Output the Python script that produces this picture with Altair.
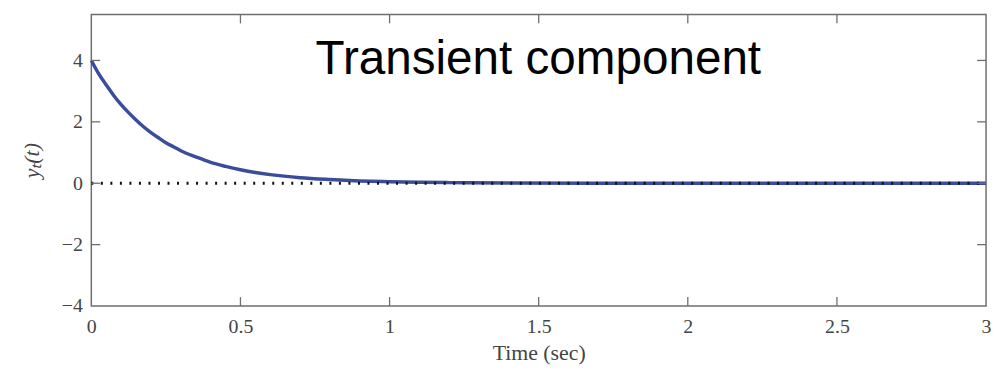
import altair as alt
import pandas as pd

# Curve
time_s = [0, 0.025, 0.05, 0.075, 0.1, 0.125, 0.15, 0.175, 0.2, 0.225, 0.25, 0.275,
          0.3, 0.35, 0.4, 0.45, 0.5, 0.55, 0.6, 0.7, 0.8, 0.9, 1.0, 1.1, 1.2, 1.4,
          1.7, 2.0, 2.5, 3.0]
y_t = [4.0, 3.56, 3.2, 2.86, 2.56, 2.3, 2.06, 1.84, 1.65, 1.48, 1.32, 1.19,
       1.06, 0.86, 0.68, 0.55, 0.44, 0.35, 0.28, 0.18, 0.12, 0.075, 0.048, 0.03,
       0.02, 0.008, 0.002, 0.0, 0.0, 0.0]

# zero reference (dotted)
zero_t = [0, 3]
zero_y = [0, 0]

x_ticks = [0, 0.5, 1, 1.5, 2, 2.5, 3]
y_ticks = [-4, -2, 0, 2, 4]
x_inner_ticks = [0.5, 1, 1.5, 2, 2.5]
y_inner_ticks = [-2, 0, 2, 4]

label_text = ["Transient component"]
label_x = [0.752]
label_y = [3.57]

W, H = 902, 294
X_DOM = [0, 3]
Y_DOM = [-4, 5.5]
SERIF = "Liberation Serif"
AXC = "#444444"
FRAME = "#6e6e6e"

curve_df = pd.DataFrame({"t": time_s, "y": y_t})
zero_df = pd.DataFrame({"t": zero_t, "y": zero_y})
xt_df = pd.DataFrame({"v": x_inner_ticks})
yt_df = pd.DataFrame({"v": y_inner_ticks})
lab_df = pd.DataFrame({"t": label_x, "y": label_y, "s": label_text})

xscale = alt.Scale(domain=X_DOM, nice=False, zero=False)
yscale = alt.Scale(domain=Y_DOM, nice=False, zero=False)

xaxis = alt.Axis(values=x_ticks, format="~g", title="Time (sec)", grid=False,
                 domain=False, tickSize=0, labelPadding=11, labelFont=SERIF,
                 labelFontSize=20, labelColor=AXC, titleFont=SERIF,
                 titleFontSize=22, titleFontWeight="normal", titleColor=AXC,
                 titlePadding=6, labelFlush=False)
yaxis = alt.Axis(values=y_ticks, format="~g", title="yₜ(t)", grid=False,
                 domain=False, tickSize=0, labelPadding=9, labelFont=SERIF,
                 labelFontSize=20, labelColor=AXC, titleFont=SERIF,
                 titleFontSize=22, titleFontWeight="normal",
                 titleFontStyle="italic", titleColor=AXC, titlePadding=18,
                 labelFlush=False)

curve = alt.Chart(curve_df).mark_line(
    color="#3a4d9c", strokeWidth=3.5, interpolate="monotone"
).encode(
    x=alt.X("t:Q", scale=xscale, axis=xaxis),
    y=alt.Y("y:Q", scale=yscale, axis=yaxis),
)

zero = alt.Chart(zero_df).mark_line(
    color="#111111", strokeWidth=3, strokeDash=[2, 7.6]
).encode(
    x=alt.X("t:Q", scale=xscale),
    y=alt.Y("y:Q", scale=yscale),
)

tick_len = 9
xt_bottom = alt.Chart(xt_df).mark_rule(color=FRAME, strokeWidth=1.3).encode(
    x=alt.X("v:Q", scale=xscale), y=alt.value(H - tick_len), y2=alt.value(H))
xt_top = alt.Chart(xt_df).mark_rule(color=FRAME, strokeWidth=1.3).encode(
    x=alt.X("v:Q", scale=xscale), y=alt.value(0), y2=alt.value(tick_len))
yt_left = alt.Chart(yt_df).mark_rule(color=FRAME, strokeWidth=1.3).encode(
    y=alt.Y("v:Q", scale=yscale), x=alt.value(0), x2=alt.value(tick_len))
yt_right = alt.Chart(yt_df).mark_rule(color=FRAME, strokeWidth=1.3).encode(
    y=alt.Y("v:Q", scale=yscale), x=alt.value(W - tick_len), x2=alt.value(W))

label = alt.Chart(lab_df).mark_text(
    font="Liberation Sans", fontSize=48, align="left", baseline="alphabetic",
    color="#000000"
).encode(
    x=alt.X("t:Q", scale=xscale),
    y=alt.Y("y:Q", scale=yscale),
    text="s:N",
)

chart = alt.layer(
    curve, zero, xt_bottom, xt_top, yt_left, yt_right, label
).properties(
    width=W, height=H,
    padding={"left": 12, "top": 4, "right": 0, "bottom": 0},
).configure(
    background="white",
    view=alt.ViewConfig(stroke=FRAME, strokeWidth=1.5),
)

chart.save("out.html", embed_options={"renderer": "svg", "actions": False})
